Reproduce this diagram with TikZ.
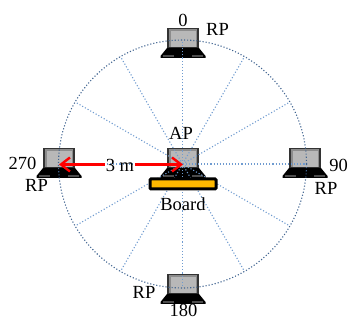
\documentclass[tikz,border=0pt]{standalone}
\usepackage{fontspec}
\setmainfont{Liberation Serif}
\usetikzlibrary{arrows.meta}
\definecolor{spoke}{HTML}{6F9BD0}
\definecolor{ring}{HTML}{3F6390}
\definecolor{boardfill}{HTML}{FFB900}
\tikzset{
  x=1pt,y=-1pt,
  lbl/.style={inner sep=0pt,font=\fontsize{18.5}{20}\selectfont},
  spokeline/.style={spoke,line width=1.1pt,dotted},
  ringline/.style={ring,line width=1.1pt,dotted},
  redarrow/.style={red,line width=2.4pt,-{Straight Barb[length=9pt,width=14pt,line width=2.4pt]}},
  pics/laptop/.style={code={
    % origin: screen top centre
    \fill[black!80] (-16,0) rectangle (16,20);
    \fill[black!45] (-14,1.5) rectangle (14,19);
    \fill[black!28] (-12.5,3.5) rectangle (12.5,19);
    \fill[black] (-16,20) -- (16,20) -- (22.5,28) -- (22.5,30) -- (-22.5,30) -- (-22.5,28) -- cycle;
    \fill[black!70] (-20,27.3) rectangle (-9,28.8);
    \fill[black!70] (9,27.3) rectangle (20,28.8);
  }}
}
\begin{document}
\begin{tikzpicture}
\useasboundingbox (0,0) rectangle (349,320);
\coordinate (c) at (182.5,164);
\pic at (183,28) {laptop};
\pic at (305,148) {laptop};
\pic at (183,274) {laptop};
\pic at (59,148) {laptop};
\pic at (183,148) {laptop};
\foreach \a in {0,30,...,330}
  \draw[spokeline] (c) -- ++(\a:124);
\draw[ringline] (c) circle [radius=124];
\node[draw=black,line width=3pt,rounded corners=1pt,fill=boardfill,minimum width=66pt,minimum height=10pt,inner sep=0pt,anchor=center] (board) at (183,184) {};
\node[lbl] (n0) at (183,20) {0};
\node[lbl] (rp0) at (217.5,29.5) {RP};
\node[lbl] (ap) at (181,133) {AP};
\node[lbl] (bd) at (183,204) {Board};
\node[lbl] (dist) at (120,165) {3 m};
\node[lbl] (n270) at (22.5,163) {270};
\node[lbl] (rp270) at (36.5,185) {RP};
\node[lbl] (n90) at (338.5,165) {90};
\node[lbl] (rp90) at (326,188) {RP};
\node[lbl] (rp180) at (144,292) {RP};
\node[lbl] (n180) at (183.5,310.5) {180};
\coordinate (west) at (59,164.5);
\coordinate (mid) at (183,164.5);
\draw[redarrow] (dist.west|-west) ++(-1,0) -- (west);
\draw[redarrow] (dist.east|-mid) ++(1,0) -- (mid);
\end{tikzpicture}
\end{document}
